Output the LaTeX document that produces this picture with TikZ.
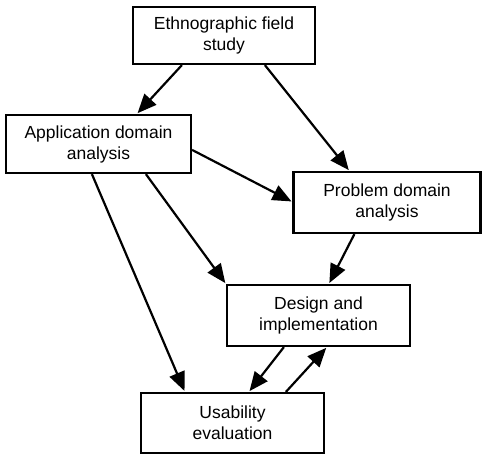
\documentclass[tikz,border=0pt]{standalone}
\usepackage{fontspec}
\setmainfont{Liberation Sans}
\usetikzlibrary{arrows.meta}
\begin{document}
\begin{tikzpicture}[x=1pt,y=-1pt,
  box/.style={draw,line width=2.2pt,rectangle,align=center,inner sep=0pt,
    font=\fontsize{17.5}{21}\selectfont},
  flow/.style={line width=2.2pt,-{Triangle[length=19pt,width=16pt]},shorten >=1pt}]
\useasboundingbox[fill=white] (0,0) rectangle (482,455);
% process boxes
\node[box,minimum width=182pt,minimum height=57pt] (eth) at (224,35.5) {Ethnographic field\\study};
\node[box,minimum width=185pt,minimum height=58pt] (app) at (98.5,144) {Application domain\\analysis};
\node[box,minimum width=187pt,minimum height=61pt] (prob) at (387,202.5) {Problem domain\\analysis};
\node[box,minimum width=183pt,minimum height=61pt] (des) at (318.5,315.5) {Design and\\implementation};
\node[box,minimum width=183pt,minimum height=60pt] (usa) at (232.5,423) {Usability\\evaluation};
% connectors
\draw[flow] ([xshift=50pt]eth.south west) -- ([xshift=132pt]app.north west);
\draw[flow] ([xshift=133pt]eth.south west) -- ([xshift=57pt]prob.north west);
\draw[flow] ([yshift=-36pt]app.north east) -- ([yshift=-31pt]prob.north west);
\draw[flow] ([xshift=141pt]app.south west) -- (des.north west);
\draw[flow] ([xshift=87pt]app.south west) -- ([xshift=45pt]usa.north west);
\draw[flow] ([xshift=62pt]prob.south west) -- ([xshift=103pt]des.north west);
\draw[flow] ([xshift=58pt]des.south west) -- ([xshift=109pt]usa.north west);
\draw[flow] ([xshift=146pt]usa.north west) -- ([xshift=101pt]des.south west);
\end{tikzpicture}
\end{document}
